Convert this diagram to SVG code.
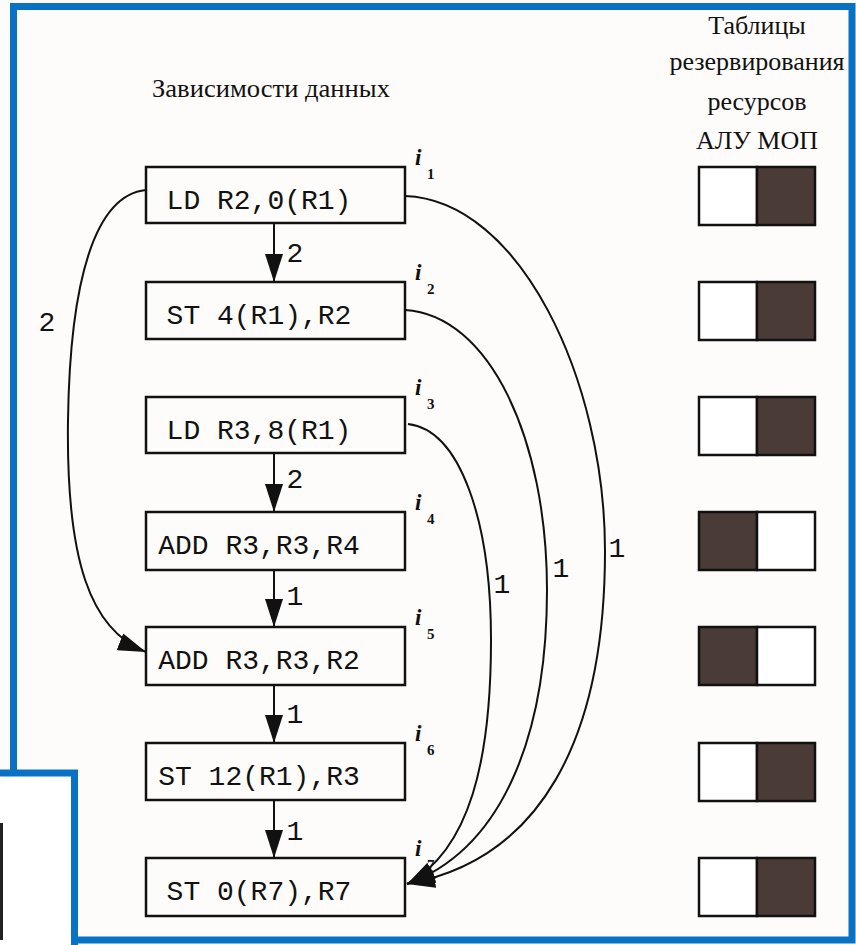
<svg xmlns="http://www.w3.org/2000/svg" width="856" height="945" viewBox="0 0 856 945">
<defs>
<style>
.bg{fill:#fdfcfa}
.box{fill:none;stroke:#111;stroke-width:2.5}
.code{font-family:"Liberation Mono","Courier New",monospace;font-size:28px;fill:#111;text-anchor:middle}
.lbl{font-family:"Liberation Mono","Courier New",monospace;font-size:28px;fill:#111;text-anchor:middle}
.hdr{font-family:"Liberation Serif","Times New Roman",serif;font-size:26px;fill:#111;text-anchor:middle}
.ii{font-family:"Liberation Serif","Times New Roman",serif;font-size:23px;font-style:italic;font-weight:bold;fill:#111}
.sub{font-family:"Liberation Serif","Times New Roman",serif;font-size:15px;font-weight:bold;fill:#111}
.edge{fill:none;stroke:#111;stroke-width:2}
.res{stroke:#111;stroke-width:2.5}
.dark{fill:#4a3b37}
.light{fill:#ffffff}
.blue{fill:none;stroke:#0a72c4;stroke-width:7}
</style>
<marker id="arr" markerUnits="userSpaceOnUse" markerWidth="30" markerHeight="18" refX="28" refY="9" orient="auto">
<path d="M0,0 L28,9 L0,18 z" fill="#111"/>
</marker>
</defs>
<rect class="bg" x="0" y="0" width="856" height="945"/>

<text class="hdr" x="271" y="97" textLength="238" lengthAdjust="spacingAndGlyphs">Зависимости данных</text>
<text class="hdr" x="757" y="34">Таблицы</text>
<text class="hdr" x="757" y="70">резервирования</text>
<text class="hdr" x="757" y="110">ресурсов</text>
<text class="hdr" x="757" y="149">АЛУ МОП</text>

<g id="connectors">
<line class="edge" x1="274" y1="223" x2="274" y2="282" marker-end="url(#arr)"/>
<line class="edge" x1="274" y1="453" x2="274" y2="512" marker-end="url(#arr)"/>
<line class="edge" x1="274" y1="570" x2="274" y2="627" marker-end="url(#arr)"/>
<line class="edge" x1="274" y1="685" x2="274" y2="743" marker-end="url(#arr)"/>
<line class="edge" x1="274" y1="800" x2="274" y2="858" marker-end="url(#arr)"/>
<path class="edge" d="M146,190 C95,195 70,280 68,420 C66,560 90,630 146,652" marker-end="url(#arr)"/>
<path class="edge" d="M405,196 C520,200 605,380 605,551 C605,740 540,860 407,884" marker-end="url(#arr)"/>
<path class="edge" d="M405,310 C490,315 547,440 547,590 C547,740 500,850 407,884" marker-end="url(#arr)"/>
<path class="edge" d="M408,424 C460,430 491,520 491,640 C491,760 470,850 407,884" marker-end="url(#arr)"/>
<text class="lbl" x="295" y="262">2</text>
<text class="lbl" x="295" y="488">2</text>
<text class="lbl" x="295" y="605">1</text>
<text class="lbl" x="295" y="723">1</text>
<text class="lbl" x="295" y="840">1</text>
<text class="lbl" x="47" y="331">2</text>
<text class="lbl" x="617" y="557">1</text>
<text class="lbl" x="561" y="577">1</text>
<text class="lbl" x="502" y="593">1</text>
</g>

<g id="i1">
<rect class="box" x="146" y="167" width="259" height="56"/>
<text class="code" x="259" y="209">LD R2,0(R1)</text>
<text class="ii" x="415" y="165">i</text><text class="sub" x="427" y="179">1</text>
<g id="r1"><rect class="res light" x="699" y="167" width="58" height="58"/><rect class="res dark" x="757" y="167" width="58" height="58"/></g>
</g>
<g id="i2">
<rect class="box" x="146" y="282" width="259" height="57"/>
<text class="code" x="259" y="324">ST 4(R1),R2</text>
<text class="ii" x="415" y="280">i</text><text class="sub" x="427" y="294">2</text>
<g id="r2"><rect class="res light" x="699" y="282" width="58" height="58"/><rect class="res dark" x="757" y="282" width="58" height="58"/></g>
</g>
<g id="i3">
<rect class="box" x="146" y="397" width="259" height="56"/>
<text class="code" x="259" y="439">LD R3,8(R1)</text>
<text class="ii" x="415" y="395">i</text><text class="sub" x="427" y="409">3</text>
<g id="r3"><rect class="res light" x="699" y="397" width="58" height="58"/><rect class="res dark" x="757" y="397" width="58" height="58"/></g>
</g>
<g id="i4">
<rect class="box" x="146" y="512" width="259" height="58"/>
<text class="code" x="259" y="554">ADD R3,R3,R4</text>
<text class="ii" x="415" y="510">i</text><text class="sub" x="427" y="524">4</text>
<g id="r4"><rect class="res dark" x="699" y="512" width="58" height="58"/><rect class="res light" x="757" y="512" width="58" height="58"/></g>
</g>
<g id="i5">
<rect class="box" x="146" y="627" width="259" height="58"/>
<text class="code" x="259" y="669">ADD R3,R3,R2</text>
<text class="ii" x="415" y="625">i</text><text class="sub" x="427" y="639">5</text>
<g id="r5"><rect class="res dark" x="699" y="627" width="58" height="58"/><rect class="res light" x="757" y="627" width="58" height="58"/></g>
</g>
<g id="i6">
<rect class="box" x="146" y="743" width="259" height="57"/>
<text class="code" x="259" y="785">ST 12(R1),R3</text>
<text class="ii" x="415" y="741">i</text><text class="sub" x="427" y="755">6</text>
<g id="r6"><rect class="res light" x="699" y="743" width="58" height="58"/><rect class="res dark" x="757" y="743" width="58" height="58"/></g>
</g>
<g id="i7">
<rect class="box" x="146" y="858" width="259" height="58"/>
<text class="code" x="259" y="900">ST 0(R7),R7</text>
<text class="ii" x="415" y="856">i</text><text class="sub" x="427" y="870">7</text>
<g id="r7"><rect class="res light" x="699" y="858" width="58" height="58"/><rect class="res dark" x="757" y="858" width="58" height="58"/></g>
</g>

<rect class="blue" x="13.5" y="6.5" width="838.5" height="933.5"/>
<rect x="0" y="773" width="74.5" height="172" fill="#ffffff"/>
<rect x="0" y="823" width="3" height="117" fill="#222"/>
<path class="blue" d="M0,773 H74.5 V945"/>
</svg>
